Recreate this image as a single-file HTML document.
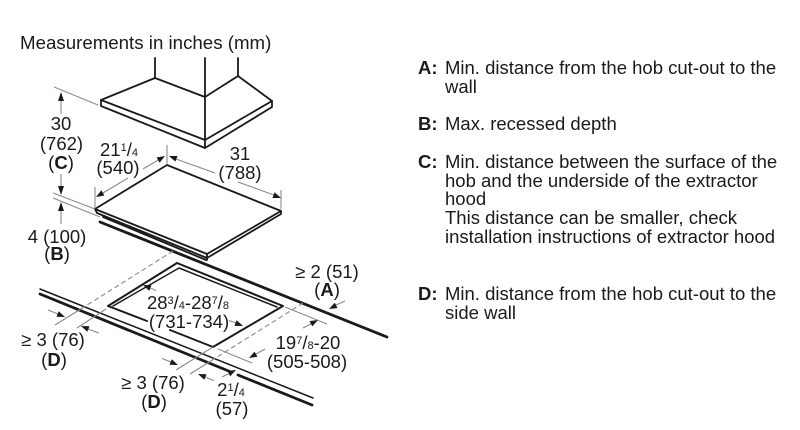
<!DOCTYPE html>
<html><head><meta charset="utf-8"><style>
html,body{margin:0;padding:0;background:#fff;}
#c{position:relative;width:800px;height:430px;overflow:hidden;background:#fff;font-family:"Liberation Sans",Arial,sans-serif;color:#1a1a1a;}
svg{position:absolute;left:0;top:0;}
.t{position:absolute;width:200px;text-align:center;font-size:18.5px;line-height:18px;white-space:nowrap;}
.s{font-size:11px;position:relative;}
.up{top:-5px;}
b{font-weight:bold;}
.r{position:absolute;left:418px;font-size:18.5px;line-height:18.7px;white-space:nowrap;}
.r .k{position:absolute;left:0;top:0;font-weight:bold;}
.r .v{margin-left:27px;}
</style></head><body><div id="c">
<svg width="800" height="430" viewBox="0 0 800 430">
<g fill="none" stroke="#1a1a1a" stroke-linejoin="round" stroke-linecap="round">
<!-- hood -->
<g stroke-width="1.8">
<line x1="155" y1="58" x2="155" y2="78"/>
<line x1="205" y1="58" x2="205" y2="148"/>
<line x1="238" y1="58" x2="238" y2="76"/>
<polyline points="101,100 155,78 205,97 238,76 272,101 205,140 101,100"/>
<polyline points="101,100 101,106 205,148 272,107 272,101"/>
</g>
<!-- cooktop -->
<g stroke-width="1.8">
<polygon points="95,209 167,165 281,211 207,254"/>
<polyline points="95,209 97,213 207,258 281,214 281,211"/>
<line x1="207" y1="254" x2="207" y2="260"/>
<line x1="103" y1="217" x2="206" y2="260"/>
</g>
<!-- worktop -->
<line x1="100" y1="222" x2="387" y2="337" stroke-width="2.8"/>
<line x1="40" y1="289" x2="313" y2="398" stroke-width="1.5"/>
<line x1="40" y1="294" x2="231" y2="372" stroke-width="2.8"/>
<line x1="238" y1="375" x2="312" y2="405" stroke-width="2.8"/>
<!-- cutout -->
<g stroke-width="2">
<polyline points="147,321 108,306 177,263 283,306 213,347 170,330"/>
</g>
<polyline points="113,306 179,268 277,307" stroke-width="1.5"/>
</g>
<!-- gray extension lines -->
<g fill="none" stroke="#8a8a8a" stroke-width="1.1">
<line x1="54" y1="87" x2="98" y2="105"/>
<line x1="53" y1="193" x2="95" y2="209"/>
<line x1="53" y1="198" x2="100" y2="217"/>
<line x1="95" y1="187" x2="95" y2="208"/>
<line x1="167" y1="145" x2="167" y2="164"/>
<line x1="281" y1="190" x2="281" y2="209"/>
<line x1="103" y1="193" x2="128" y2="178"/>
<line x1="143" y1="169" x2="160" y2="159"/>
<line x1="176" y1="159" x2="215" y2="173"/>
<line x1="238" y1="182" x2="274" y2="195"/>
<line x1="84" y1="307" x2="55" y2="325"/>
<line x1="106" y1="309" x2="77" y2="328"/>
<line x1="214" y1="359" x2="190" y2="374"/>
<line x1="213" y1="347" x2="176" y2="370"/>
<line x1="218" y1="349" x2="252" y2="363"/>
<line x1="285" y1="307" x2="327" y2="324"/>
<line x1="61" y1="100" x2="61" y2="114"/>
<line x1="61" y1="174" x2="61" y2="187"/>
<line x1="61" y1="210" x2="61" y2="224"/>
<line x1="336" y1="305" x2="345" y2="301"/>
<line x1="150" y1="288" x2="156" y2="290.5"/>
<line x1="229" y1="320.5" x2="236" y2="323"/>
<line x1="303" y1="328" x2="311" y2="324"/>
<line x1="256" y1="354" x2="265" y2="349"/>
<line x1="48" y1="310" x2="58" y2="314"/>
<line x1="88" y1="329" x2="99" y2="333"/>
<line x1="162" y1="358.5" x2="171" y2="362"/>
<line x1="205" y1="377" x2="214" y2="380.5"/>
<line x1="222" y1="377" x2="229" y2="373.5"/>
</g>
<g fill="none" stroke="#8a8a8a" stroke-width="1.1" stroke-dasharray="5,3">
<line x1="173" y1="251" x2="84" y2="307"/>
<line x1="303" y1="303" x2="214" y2="359"/>
</g>
<!-- arrowheads -->
<g fill="#1a1a1a" stroke="none">
<polygon points="61,92 58,101 64,101"/>
<polygon points="61,195 58,186 64,186"/>
<polygon points="61,202 58,211 64,211"/>
<polygon points="96,197 104.4,195.5 101.4,190.3"/>
<polygon points="165,156 159.6,162.7 156.6,157.5"/>
<polygon points="169,156 177.5,156 175.4,161.6"/>
<polygon points="281,198 272.4,198 274.6,192.4"/>
<polygon points="329,309 337.5,308.1 334.8,302.7"/>
<polygon points="143,285 151.5,285.3 149.2,290.9"/>
<polygon points="243,326 234.4,325.9 236.6,320.3"/>
<polygon points="318,320 312.3,326.4 309.5,321.1"/>
<polygon points="249,358 257.4,356.8 254.6,351.6"/>
<polygon points="65,317 56.5,316.8 58.7,311.2"/>
<polygon points="81,326 89.5,326.2 87.3,331.8"/>
<polygon points="178,365 169.5,364.8 171.7,359.2"/>
<polygon points="198,374 206.5,374.2 204.3,379.8"/>
<polygon points="236,370 230.2,376.3 227.5,370.9"/>
</g>
</svg>

<div class="t" style="left:20px;top:34px;width:auto;text-align:left;font-size:18.7px;">Measurements in inches (mm)</div>

<div class="t" style="left:-39px;top:115px;">30</div>
<div class="t" style="left:-38.5px;top:135px;">(762)</div>
<div class="t" style="left:-39px;top:154px;">(<b>C</b>)</div>

<div class="t" style="left:19px;top:141px;">21<span class="s up">1</span>/<span class="s">4</span></div>
<div class="t" style="left:18px;top:159px;">(540)</div>

<div class="t" style="left:140px;top:145px;">31</div>
<div class="t" style="left:140px;top:164px;">(788)</div>

<div class="t" style="left:-43px;top:228px;">4 (100)</div>
<div class="t" style="left:-43px;top:245px;">(<b>B</b>)</div>

<div class="t" style="left:227px;top:263px;">≥ 2 (51)</div>
<div class="t" style="left:227px;top:281px;">(<b>A</b>)</div>

<div class="t" style="left:88px;top:294px;">28<span class="s up">3</span>/<span class="s">4</span>-28<span class="s up">7</span>/<span class="s">8</span></div>
<div class="t" style="left:89px;top:313px;">(731-734)</div>

<div class="t" style="left:208px;top:334px;">19<span class="s up">7</span>/<span class="s">8</span>-20</div>
<div class="t" style="left:207px;top:353px;">(505-508)</div>

<div class="t" style="left:-47px;top:331px;">≥ 3 (76)</div>
<div class="t" style="left:-46px;top:351px;">(<b>D</b>)</div>

<div class="t" style="left:53px;top:374px;">≥ 3 (76)</div>
<div class="t" style="left:54px;top:393px;">(<b>D</b>)</div>

<div class="t" style="left:131px;top:381px;">2<span class="s up">1</span>/<span class="s">4</span></div>
<div class="t" style="left:132px;top:400px;">(57)</div>

<div class="r" style="top:58.9px;"><span class="k">A:</span><div class="v">Min. distance from the hob cut-out to the<br>wall</div></div>
<div class="r" style="top:114.9px;"><span class="k">B:</span><div class="v">Max. recessed depth</div></div>
<div class="r" style="top:152.9px;"><span class="k">C:</span><div class="v">Min. distance between the surface of the<br>hob and the underside of the extractor<br>hood<br>This distance can be smaller, check<br>installation instructions of extractor hood</div></div>
<div class="r" style="top:284.9px;"><span class="k">D:</span><div class="v">Min. distance from the hob cut-out to the<br>side wall</div></div>
</div></body></html>
